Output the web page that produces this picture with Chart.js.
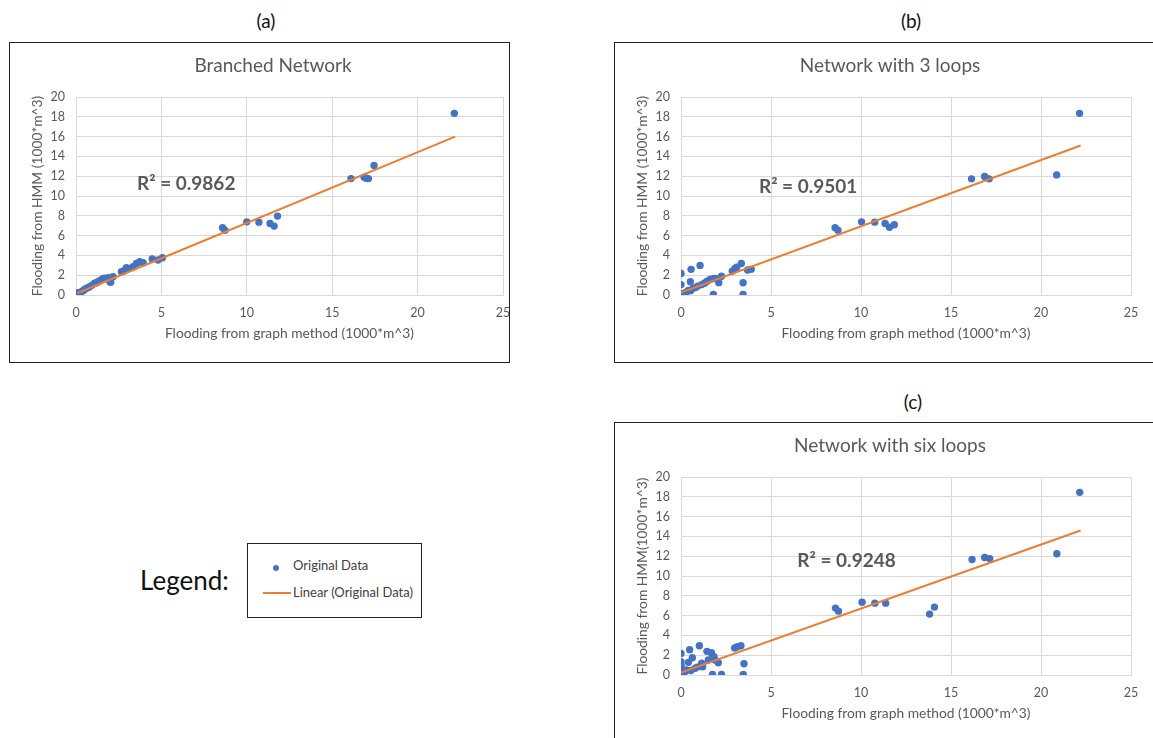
<!DOCTYPE html>
<html>
<head>
<meta charset="utf-8">
<script src="https://cdn.jsdelivr.net/npm/chart.js@4.4.1/dist/chart.umd.min.js"></script>
<style>
  body { margin: 0; width: 1153px; height: 738px; overflow: hidden; background: #fff; position: relative; font-family: Lato, sans-serif; }
  .box { position: absolute; border: 1px solid #222; background: #fff; }
  .box canvas { position: absolute; left: 0; top: 0; }
  .tag { position: absolute; font-size: 19px; line-height: 1; color: #111; transform: translate(-50%, -50%); }
  #legendWord { position: absolute; left: 140px; top: 567px; font-size: 26px; line-height: 1; color: #111; }
  .lg-text { position: absolute; left: 45px; font-size: 13px; line-height: 1; color: #404040; transform: translateY(-50%); white-space: nowrap; }
  .lg-dot { position: absolute; left: 25px; top: 21px; width: 6px; height: 6px; border-radius: 50%; background: #4472C4; }
  .lg-line { position: absolute; left: 15px; top: 48px; width: 28px; height: 1.5px; background: #ED7D31; }
</style>
</head>
<body>
<div class="tag" style="left:266px;top:20px">(a)</div>
<div class="tag" style="left:911px;top:20px">(b)</div>
<div class="tag" style="left:913px;top:401px">(c)</div>

<div class="box" style="left:9px;top:42px;width:499px;height:319px"><canvas id="chartA" width="499" height="319"></canvas></div>
<div class="box" style="left:614px;top:42px;width:545px;height:319px"><canvas id="chartB" width="545" height="319"></canvas></div>
<div class="box" style="left:614px;top:422px;width:545px;height:319px"><canvas id="chartC" width="545" height="319"></canvas></div>

<div id="legendWord">Legend:</div>
<div class="box" style="left:247px;top:543px;width:173px;height:73px">
  <div class="lg-dot"></div>
  <div class="lg-text" style="top:21px">Original Data</div>
  <div class="lg-line"></div>
  <div class="lg-text" style="top:48px">Linear (Original Data)</div>
</div>

<script>
// tick values shared by the three panels
const xTickVals = [0, 5, 10, 15, 20, 25];
const yTickVals = [0, 2, 4, 6, 8, 10, 12, 14, 16, 18, 20];

// (a) Branched Network
const branchedX = [0.06, 0.12, 0.21, 0.30, 0.41, 0.50, 0.60, 0.70, 0.80, 0.95, 1.09, 1.20, 1.29, 1.40, 1.54, 1.65, 1.78, 1.90, 1.98, 2.03, 2.17,
  2.66, 2.80, 2.95, 3.05, 3.34, 3.54, 3.73, 3.93, 4.46, 4.80, 5.06, 8.58, 8.72, 10.0, 10.71, 11.36, 11.6, 11.8, 16.1, 16.87, 17.0, 17.12, 17.45, 22.15];
const branchedY = [0.10, 0.23, 0.24, 0.32, 0.44, 0.55, 0.67, 0.75, 0.84, 1.00, 1.18, 1.25, 1.34, 1.45, 1.61, 1.70, 1.68, 1.75, 1.34, 1.28, 1.85,
  2.35, 2.42, 2.76, 2.69, 2.86, 3.19, 3.36, 3.26, 3.63, 3.53, 3.76, 6.79, 6.55, 7.39, 7.36, 7.23, 6.96, 7.97, 11.76, 11.9, 11.8, 11.76, 13.08, 18.35];
const branchedTrendX = [0.1, 22.2];
const branchedTrendY = [0.2, 16.0];

// (b) Network with 3 loops
const loops3X = [0, 0, 0, 0.05, 0.12, 0.27, 0.41, 0.52, 0.53, 0.56, 0.67, 0.80, 0.93, 1.06, 1.15, 1.30, 1.45, 1.62, 1.76, 1.80, 1.90, 2.10,
  2.25, 2.85, 3.00, 3.10, 3.35, 3.45, 3.45, 3.70, 3.90, 8.56, 8.72, 10.03, 10.76, 11.34, 11.58, 11.85, 16.14, 16.87, 17.12, 20.87, 22.14];
const loops3Y = [2.18, 1.05, 0.10, 0.05, 0.15, 0.27, 0.45, 1.34, 0.44, 2.59, 0.67, 0.75, 0.90, 2.99, 1.05, 1.18, 1.40, 1.58, 1.65, 0.05, 1.68, 1.25,
  1.90, 2.40, 2.69, 2.80, 3.19, 1.24, 0.05, 2.52, 2.59, 6.79, 6.55, 7.39, 7.36, 7.23, 6.85, 7.09, 11.73, 11.97, 11.73, 12.13, 18.35];
const loops3TrendX = [0, 22.2];
const loops3TrendY = [0.25, 15.1];

// (c) Network with six loops
const loops6X = [0, 0, 0, 0, 0, 0.10, 0.22, 0.30, 0.41, 0.48, 0.63, 0.55, 0.78, 0.90, 1.02, 1.15, 1.20, 1.44, 1.52, 1.69, 1.76, 1.89, 1.83,
  2.07, 1.75, 2.25, 2.98, 3.13, 3.33, 3.50, 3.46, 8.58, 8.75, 10.06, 10.77, 11.37, 13.81, 14.08, 16.17, 16.87, 17.15, 20.88, 22.15];
const loops6Y = [2.18, 1.34, 1.00, 0.84, 0.07, 0.15, 0.34, 0.50, 1.28, 2.55, 1.75, 0.45, 0.67, 0.80, 2.96, 1.18, 0.84, 2.39, 1.51, 2.25, 1.75, 1.51, 1.85,
  1.24, 0.05, 0.05, 2.72, 2.86, 2.96, 1.14, 0.05, 6.76, 6.45, 7.36, 7.26, 7.26, 6.15, 6.86, 11.66, 11.87, 11.76, 12.24, 18.45];
const loops6TrendX = [0, 22.2];
const loops6TrendY = [0.25, 14.6];

Chart.defaults.font.family = "Lato, 'Open Sans', sans-serif";
Chart.defaults.color = "#595959";

// chart title and R² label, drawn on the canvas
const excelText = {
  id: "excelText",
  afterDatasetsDraw(chart, args, o) {
    const ctx = chart.ctx;
    ctx.save();
    ctx.fillStyle = "#595959";
    ctx.textBaseline = "middle";
    ctx.textAlign = "center";
    ctx.font = "19px Lato";
    ctx.fillText(o.title, o.titleX, o.titleY);
    ctx.textAlign = "left";
    ctx.font = "bold 19px Lato";
    ctx.fillText(o.r2, chart.scales.x.getPixelForValue(o.r2At[0]), chart.scales.y.getPixelForValue(o.r2At[1]));
    ctx.restore();
  },
};

function toPoints(xs, ys) {
  return xs.map((x, i) => ({ x: x, y: ys[i] }));
}

function makeChart(id, xs, ys, tx, ty, o) {
  const ctx = document.getElementById(id).getContext("2d");
  return new Chart(ctx, {
    type: "scatter",
    data: {
      datasets: [
        {
          label: "Linear (Original Data)",
          data: toPoints(tx, ty),
          showLine: true,
          borderColor: "#ED7D31",
          borderWidth: 2,
          pointRadius: 0,
        },
        {
          label: "Original Data",
          data: toPoints(xs, ys),
          backgroundColor: "#4472C4",
          borderWidth: 0,
          pointRadius: 3.7,
        },
      ],
    },
    options: {
      responsive: false,
      animation: false,
      layout: { padding: { left: 0, top: 54, right: o.padRight, bottom: 0 } },
      plugins: {
        legend: { display: false },
        tooltip: { enabled: false },
        excelText: o,
      },
      scales: {
        x: {
          type: "linear",
          min: 0,
          max: 25,
          afterBuildTicks: (s) => { s.ticks = xTickVals.map((v) => ({ value: v })); },
          afterFit: (s) => { s.height = 67; s.paddingLeft = 0; s.paddingRight = 0; },
          grid: { color: "#d9d9d9", drawTicks: false },
          border: { color: "#d9d9d9" },
          ticks: { padding: 10, font: { size: 12.5 } },
          title: { display: true, text: "Flooding from graph method (1000*m^3)", font: { size: 13.8 }, padding: { top: 0, bottom: 20 } },
        },
        y: {
          type: "linear",
          min: 0,
          max: 20,
          afterBuildTicks: (s) => { s.ticks = yTickVals.map((v) => ({ value: v })); },
          afterFit: (s) => { s.width = 66; s.paddingTop = 0; s.paddingBottom = 0; },
          grid: { color: "#d9d9d9", drawTicks: false },
          border: { color: "#d9d9d9" },
          ticks: { padding: 11, font: { size: 12.5 } },
          title: { display: true, text: o.yTitle, font: { size: 13.8 }, padding: { top: 19, bottom: 0 } },
        },
      },
    },
    plugins: [excelText],
  });
}

makeChart("chartA", branchedX, branchedY, branchedTrendX, branchedTrendY, {
  padRight: 6, title: "Branched Network", titleX: 263, titleY: 23,
  r2: "R² = 0.9862", r2At: [3.57, 11.18], yTitle: "Flooding from HMM (1000*m^3)",
});
makeChart("chartB", loops3X, loops3Y, loops3TrendX, loops3TrendY, {
  padRight: 29, title: "Network with 3 loops", titleX: 275, titleY: 23,
  r2: "R² = 0.9501", r2At: [4.33, 10.92], yTitle: "Flooding from HMM (1000*m^3)",
});
makeChart("chartC", loops6X, loops6Y, loops6TrendX, loops6TrendY, {
  padRight: 29, title: "Network with six loops", titleX: 275, titleY: 23,
  r2: "R² = 0.9248", r2At: [6.46, 11.55], yTitle: "Flooding from HMM(1000*m^3)",
});
</script>
</body>
</html>
